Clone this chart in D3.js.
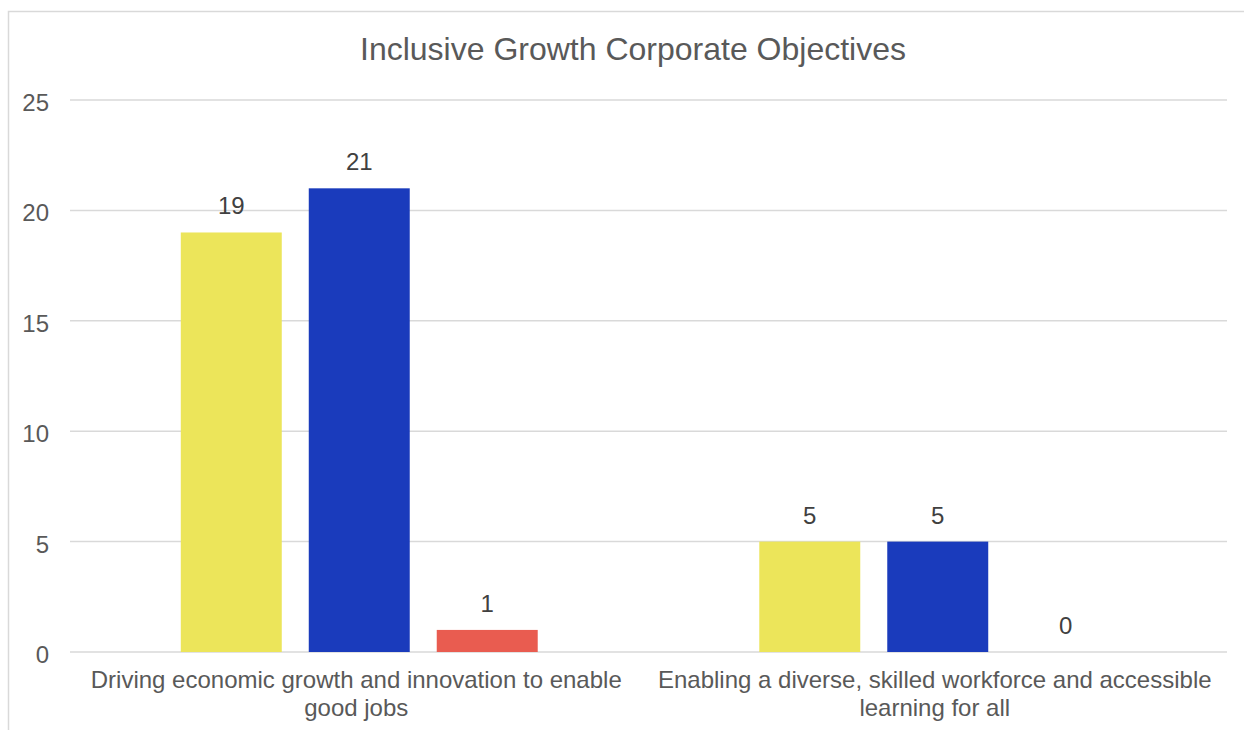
<!DOCTYPE html>
<html>
<head>
<meta charset="utf-8">
<script src="https://cdn.jsdelivr.net/npm/d3@7"></script>
<style>
  body { margin: 0; background: #fff; }
  svg { display: block; font-family: "Liberation Sans", Arial, sans-serif; }
</style>
</head>
<body>
<svg id="chart" width="1244" height="730"></svg>
<script>
const categories = [
  ['Driving economic growth and innovation to enable', 'good jobs'],
  ['Enabling a diverse, skilled workforce and accessible', 'learning for all']
];
const seriesNames = ['Series A', 'Series B', 'Series C'];
const seriesColors = ['#ECE55A', '#1A3BBC', '#E95C50'];
const values = [
  [19, 21, 1],
  [5, 5, 0]
];
const yTicks = [0, 5, 10, 15, 20, 25];

const svg = d3.select('#chart');
const plotLeft = 70, plotRight = 1227, plotTop = 100, plotBottom = 652;

// outer frame
svg.append('rect')
  .attr('x', 8.5).attr('y', 11.5)
  .attr('width', 1250).attr('height', 740)
  .attr('fill', 'none').attr('stroke', '#d9d9d9').attr('stroke-width', 1.5);

svg.append('text')
  .attr('x', 633).attr('y', 60)
  .attr('text-anchor', 'middle')
  .attr('font-size', 32)
  .attr('fill', '#595959')
  .text('Inclusive Growth Corporate Objectives');

const y = d3.scaleLinear().domain([0, 25]).range([plotBottom, plotTop]);
const x0 = d3.scaleBand().domain(d3.range(categories.length)).range([plotLeft, plotRight])
  .paddingInner(0.383).paddingOuter(0.1915);
const x1 = d3.scaleBand().domain(d3.range(seriesNames.length)).range([0, x0.bandwidth()])
  .paddingInner(0.211);

// gridlines
svg.append('g').selectAll('line').data(yTicks).join('line')
  .attr('x1', plotLeft).attr('x2', plotRight)
  .attr('y1', d => y(d)).attr('y2', d => y(d))
  .attr('stroke', '#d9d9d9').attr('stroke-width', 1.5);

// y tick labels
svg.append('g').selectAll('text').data(yTicks).join('text')
  .attr('x', 49).attr('y', d => y(d) + 11)
  .attr('text-anchor', 'end')
  .attr('font-size', 24)
  .attr('fill', '#595959')
  .text(d => d);

const groups = svg.append('g').selectAll('g').data(values).join('g')
  .attr('transform', (d, i) => `translate(${x0(i)},0)`);

groups.selectAll('rect').data(d => d).join('rect')
  .attr('x', (d, j) => x1(j))
  .attr('width', x1.bandwidth())
  .attr('y', d => y(d))
  .attr('height', d => plotBottom - y(d))
  .attr('fill', (d, j) => seriesColors[j]);

groups.selectAll('text').data(d => d).join('text')
  .attr('x', (d, j) => x1(j) + x1.bandwidth() / 2)
  .attr('y', d => y(d) - 18)
  .attr('text-anchor', 'middle')
  .attr('font-size', 24)
  .attr('fill', '#404040')
  .text(d => d);

// category labels (wrapped onto two lines)
const cat = svg.append('g').selectAll('text').data(categories).join('text')
  .attr('text-anchor', 'middle')
  .attr('font-size', 24)
  .attr('fill', '#595959');
cat.selectAll('tspan').data((d, i) => d.map(s => ({s, i}))).join('tspan')
  .attr('x', d => x0(d.i) + x0.bandwidth() / 2 - 3)
  .attr('y', (d, k) => 688 + k * 28)
  .text(d => d.s);
</script>
</body>
</html>
